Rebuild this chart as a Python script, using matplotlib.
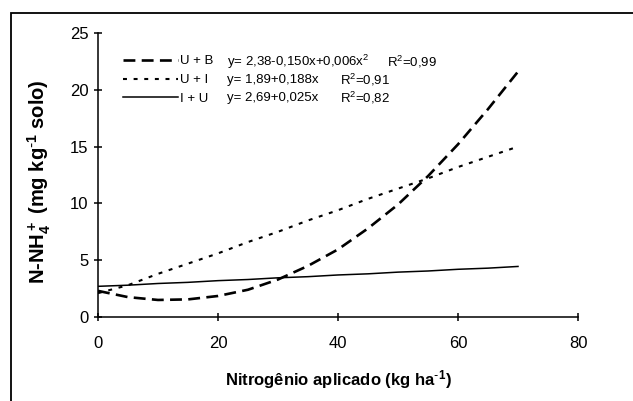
import matplotlib
matplotlib.use("Agg")
import matplotlib.pyplot as plt
from matplotlib.patches import Rectangle

plt.rcParams['font.family'] = ['Liberation Sans', 'DejaVu Sans']
plt.rcParams['mathtext.default'] = 'regular'

# Data
x_vals = [0, 5, 10, 15, 20, 25, 30, 35, 40, 45, 50, 55, 60, 65, 70]
ub_vals = [2.3, 1.75, 1.5, 1.55, 1.85, 2.4, 3.3, 4.5, 5.95, 7.8, 9.9, 12.4, 15.2, 18.3, 21.6]
ui_vals = [2.1, 2.8, 3.8, 4.7, 5.6, 6.6, 7.5, 8.5, 9.4, 10.4, 11.3, 12.2, 13.2, 14.1, 15.0]
iu_vals = [2.7, 2.8, 2.95, 3.05, 3.2, 3.3, 3.45, 3.55, 3.7, 3.8, 3.95, 4.05, 4.2, 4.3, 4.45]

series_names = ["U + B", "U + I", "I + U"]
equations = ["y= 2,38-0,150x+0,006x$^2$", "y= 1,89+0,188x", "y= 2,69+0,025x"]
r2_labels = ["R$^2$=0,99", "R$^2$=0,91", "R$^2$=0,82"]

x_ticks = [0, 20, 40, 60, 80]
y_ticks = [0, 5, 10, 15, 20, 25]

W, H = 633, 401
fig = plt.figure(figsize=(W / 100, H / 100), dpi=100)
ax = fig.add_axes([98 / W, 1 - 317 / H, 480 / W, 284 / H])

l1, = ax.plot(x_vals, ub_vals, color='black', lw=1.9, dashes=(4.5, 2.4), label=series_names[0])
l2, = ax.plot(x_vals, ui_vals, color='black', lw=1.5, dashes=(1.9, 3.2), label=series_names[1])
l3, = ax.plot(x_vals, iu_vals, color='black', lw=1.1, label=series_names[2])

ax.set_xlim(0, 80)
ax.set_ylim(0, 25)
ax.set_xticks(x_ticks)
ax.set_yticks(y_ticks)
ax.set_xticklabels([str(t) for t in x_ticks])
ax.set_yticklabels([str(t) for t in y_ticks])
for s in ['top', 'right']:
    ax.spines[s].set_visible(False)
for s in ['left', 'bottom']:
    ax.spines[s].set_linewidth(1.1)
ax.tick_params(axis='both', direction='inout', length=6, width=1.1, labelsize=12)
ax.tick_params(axis='x', pad=11)
ax.tick_params(axis='y', pad=4)

ax.set_xlabel("Nitrogênio aplicado (kg ha$^{\\text{-}1}$)", fontsize=12, fontweight='bold', labelpad=12)
ax.set_ylabel("N-NH$_4^+$ (mg kg$^{\\text{-}1}$ solo)", fontsize=14.5, fontweight='bold')
ax.yaxis.set_label_coords(-0.094, 0.475)

leg = ax.legend(handles=[l1, l2, l3], loc='upper left', bbox_to_anchor=(0.052, 0.922),
                frameon=False, fontsize=9.5, handlelength=4.2, handletextpad=0.1,
                labelspacing=0.5, borderaxespad=0, borderpad=0)

row_y = [0.898, 0.835, 0.771]
for i in range(3):
    ax.text(0.269, row_y[i], equations[i], transform=ax.transAxes, fontsize=9.5, va='center')
    ax.text(0.602 if i == 0 else 0.504, row_y[i], r2_labels[i], transform=ax.transAxes,
            fontsize=9.5, va='center')

fig.patches.append(Rectangle((11 / W, -0.1), 1.2, (H - 13) / H + 0.1, transform=fig.transFigure,
                             fill=False, edgecolor='black', lw=1.3, clip_on=False))

fig.savefig("out.png", dpi=100)
